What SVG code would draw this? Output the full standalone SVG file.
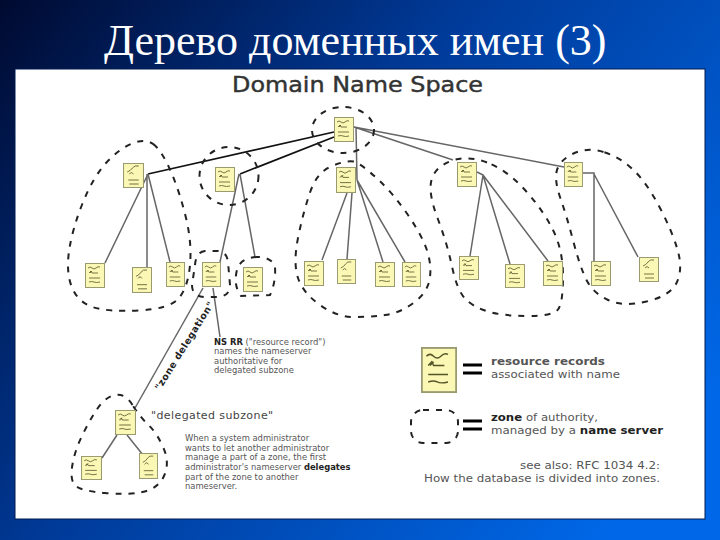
<svg xmlns="http://www.w3.org/2000/svg" width="720" height="540" viewBox="0 0 720 540">
<style>
text{font-family:"DejaVu Sans","Liberation Sans",sans-serif;fill:#333}
.title{font-family:"Liberation Serif",serif;font-size:44px;fill:#fff}
.h{font-size:22px;fill:#333;stroke:#333;stroke-width:.45px}
.s{font-size:8.4px;fill:#555}
.b{font-weight:bold;fill:#222}
.l{font-size:10.8px;fill:#555}
.zone{fill:none;stroke:#222;stroke-width:2;stroke-dasharray:6 7}
.c{fill:none;stroke:#666;stroke-width:1.5}
.k{fill:none;stroke:#111;stroke-width:1.7}
.eq{stroke:#000;stroke-width:3}
</style>
<defs>
<linearGradient id="bg" gradientUnits="userSpaceOnUse" x1="0" y1="0" x2="640" y2="500">
<stop offset="0" stop-color="#000a30"/><stop offset=".45" stop-color="#003a98"/><stop offset="1" stop-color="#0068e8"/>
</linearGradient>
<symbol id="rr" viewBox="0 0 20 25" preserveAspectRatio="none">
<rect x=".5" y=".5" width="19" height="24" fill="#fbf7b4" stroke="#9a9a70"/>
<path d="M3 5q2-2 4 0t4 0 4-1M4 10l2-2 1 2h6M5 10l2-2M4 15h11M4 19q3-1 5 0t6 0" fill="none" stroke="#55552a" stroke-width=".8"/>
</symbol>
<symbol id="rr2" viewBox="0 0 20 25" preserveAspectRatio="none">
<rect x=".5" y=".5" width="19" height="24" fill="#fbf7b4" stroke="#9a9a70"/>
<path d="M4 9q3-1 5-4t6-2M6 11q2-3 4 0M5 17h10M6 21h9" fill="none" stroke="#55552a" stroke-width=".8"/>
</symbol>
</defs>
<rect id="background" width="720" height="540" fill="url(#bg)"/>
<rect id="panel" x="15" y="69" width="690" height="450" fill="#fff" stroke="#001a50"/>
<text class="title" x="104" y="55">Дерево доменных имен (3)</text>
<text class="h" x="232" y="92" textLength="251" lengthAdjust="spacingAndGlyphs">Domain Name Space</text>

<g id="connectors">
<path class="k" d="M334 132L148 174M334 137L240 174"/>
<path class="c" d="M354 127L453 160M354 127L564 167M356 127L357 180M148 174L105 263M147 174V267M148 174L170 262M239 174L220 262M240 174L255 257M347 193L322 260M352 193L347 259M357 180L383 262M357 180L405 262M477 172L483 175L470 256M483 175L510 264M483 175L548 261M583 173H594V261M594 174L638 257M213 288L220 337M117 435L102 458M127 435L143 455"/>
<path class="c" d="M203 288L135 408"/>
</g>

<g id="zones">
<ellipse class="zone" cx="343" cy="130" rx="31" ry="23"/>
<path class="zone" d="M155,145.5 Q147,138 133.5,143 Q120,148 106.5,162.5 Q93,177 82.5,203.5 Q72,230 69,251.5 Q66,273 72,287.5 Q78,302 92.5,307 Q107,312 138.5,310.5 Q170,309 179,298 Q188,287 190,265 Q192,243 186,218 Q180,193 171.5,173 Q163,153 155,145.5Z"/>
<ellipse class="zone" cx="229" cy="176" rx="29.5" ry="29"/>
<path class="zone" d="M205,251 Q196,252 195,265 L192,285 Q192,297 205,297 L218,297 Q230,296 230,285 L228,262 Q227,252 218,251Z"/>
<path class="zone" d="M257,257 Q240,258 237,270 Q233,285 241,296 L270,295 Q276,282 275,267 Q272,257 257,257Z"/>
<path class="zone" d="M353.5,161.5 Q347,160 332,166 Q317,172 310,192.5 Q303,213 298,238 Q293,263 298,278 Q303,293 320,305 Q337,317 353.5,317 Q370,317 385,315 Q400,313 413.5,303 Q427,293 429.5,280 Q432,267 427.5,252 Q423,237 408,215 Q393,193 376.5,178 Q360,163 353.5,161.5Z"/>
<path class="zone" d="M487,162.5 Q467,155 451,161 Q435,167 431.5,180 Q428,193 437.5,218 Q447,243 452,266.5 Q457,290 465,298.5 Q473,307 488,311.5 Q503,316 528,316 Q553,316 558,309.5 Q563,303 563,276.5 Q563,250 553,230 Q543,210 525,190 Q507,170 487,162.5Z"/>
<path class="zone" d="M603.5,152 Q587,147 573.5,153.5 Q560,160 557,170 Q554,180 560.5,198.5 Q567,217 573.5,242 Q580,267 586.5,280 Q593,293 608,300 Q623,307 646.5,301.5 Q670,296 676.5,283 Q683,270 678,251.5 Q673,233 660,208 Q647,183 633.5,170 Q620,157 603.5,152Z"/>
<path class="zone" d="M132.5,405 Q125,393 115,395 Q105,397 96.5,410 Q88,423 81,438 Q74,453 72,467.5 Q70,482 76.5,486.5 Q83,491 105,493 Q127,495 142.5,492 Q158,489 164,476 Q170,463 163.5,448 Q157,433 148.5,425 Q140,417 132.5,405Z"/>
</g>

<g id="root"><use href="#rr" x="334" y="117" width="20" height="25"/></g>
<g id="n1"><use href="#rr2" x="123" y="163" width="21" height="25"/></g>
<g id="n2"><use href="#rr" x="215" y="167" width="20" height="25"/></g>
<g id="n3"><use href="#rr" x="336" y="167" width="20" height="26"/></g>
<g id="n4"><use href="#rr" x="457" y="162" width="20" height="25"/></g>
<g id="n5"><use href="#rr" x="564" y="162" width="19" height="25"/></g>
<g id="l1"><use href="#rr" x="85" y="263" width="20" height="25"/></g>
<g id="l2"><use href="#rr2" x="132" y="267" width="20" height="26"/></g>
<g id="l3"><use href="#rr" x="166" y="262" width="19" height="25"/></g>
<g id="l4"><use href="#rr" x="202" y="262" width="19" height="25"/></g>
<g id="l5"><use href="#rr" x="243" y="267" width="20" height="25"/></g>
<g id="l6"><use href="#rr" x="304" y="261" width="20" height="25"/></g>
<g id="l7"><use href="#rr2" x="337" y="259" width="19" height="25"/></g>
<g id="l8"><use href="#rr" x="375" y="262" width="20" height="25"/></g>
<g id="l9"><use href="#rr" x="402" y="262" width="19" height="25"/></g>
<g id="l10"><use href="#rr" x="459" y="256" width="20" height="24"/></g>
<g id="l11"><use href="#rr" x="505" y="264" width="20" height="24"/></g>
<g id="l12"><use href="#rr" x="543" y="261" width="20" height="25"/></g>
<g id="l13"><use href="#rr" x="591" y="261" width="20" height="25"/></g>
<g id="l14"><use href="#rr2" x="639" y="257" width="20" height="25"/></g>
<g id="sub"><use href="#rr" x="115" y="410" width="21" height="25"/></g>
<g id="s1"><use href="#rr" x="81" y="456" width="21" height="24"/></g>
<g id="s2"><use href="#rr2" x="139" y="453" width="19" height="26"/></g>

<text class="b" transform="translate(160 391) rotate(-58)" style="font-size:9.5px;letter-spacing:.4px">"zone delegation"</text>

<g id="ns-note">
<text class="s" x="214" y="345"><tspan class="b">NS RR</tspan> ("resource record")</text>
<text class="s" x="214" y="354">names the nameserver</text>
<text class="s" x="214" y="364">authoritative for</text>
<text class="s" x="214" y="373">delegated subzone</text>
</g>
<text x="151" y="419" style="font-size:11px;letter-spacing:.4px;fill:#444">"delegated subzone"</text>
<g id="delegate-note">
<text class="s" x="185" y="441">When a system administrator</text>
<text class="s" x="185" y="451">wants to let another administrator</text>
<text class="s" x="185" y="460">manage a part of a zone, the first</text>
<text class="s" x="185" y="470">administrator's nameserver <tspan class="b">delegates</tspan></text>
<text class="s" x="185" y="480">part of the zone to another</text>
<text class="s" x="185" y="489">nameserver.</text>
</g>
<g id="legend-records">
<use href="#rr" x="421" y="347" width="36" height="46"/>
<path class="eq" d="M463 365H482M463 373H482"/>
<text class="l b" x="491" y="365" textLength="114" lengthAdjust="spacingAndGlyphs">resource records</text>
<text class="l" x="491" y="378" textLength="129" lengthAdjust="spacingAndGlyphs">associated with name</text>
</g>
<g id="legend-zone">
<rect class="zone" x="411" y="410" width="47" height="33" rx="12"/>
<path class="eq" d="M463 421H482M463 429H482"/>
<text class="l" x="491" y="421" textLength="107" lengthAdjust="spacingAndGlyphs"><tspan class="b">zone</tspan> of authority,</text>
<text class="l" x="491" y="434" textLength="172" lengthAdjust="spacingAndGlyphs">managed by a <tspan class="b">name server</tspan></text>
</g>
<text class="l" x="520" y="469" textLength="140" lengthAdjust="spacingAndGlyphs">see also: RFC 1034 4.2:</text>
<text class="l" x="424" y="482" textLength="236" lengthAdjust="spacingAndGlyphs">How the database is divided into zones.</text>
</svg>
